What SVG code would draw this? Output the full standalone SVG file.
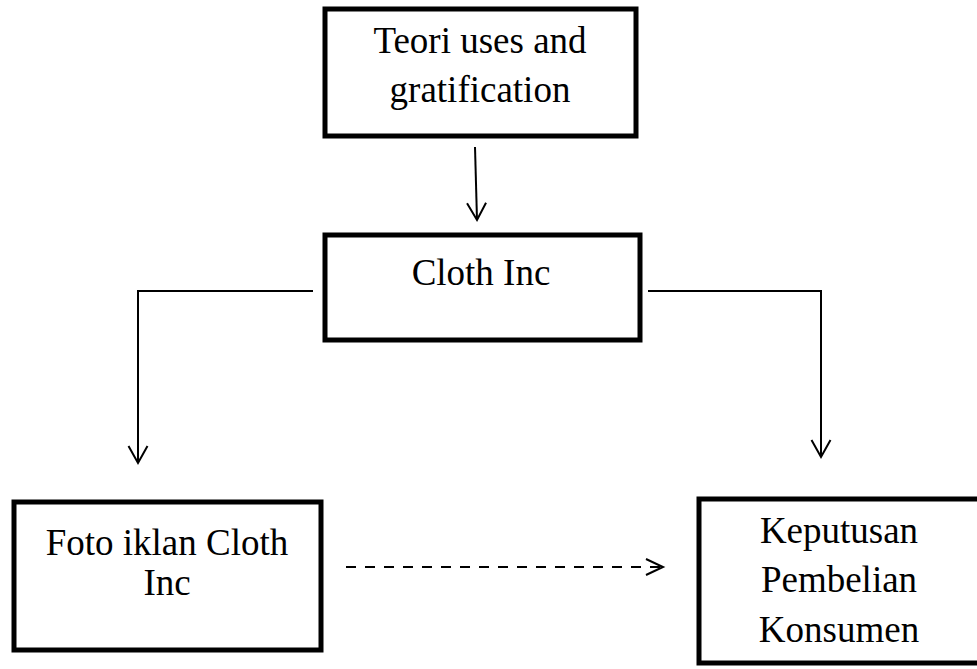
<svg xmlns="http://www.w3.org/2000/svg" width="977" height="669" viewBox="0 0 977 669">
<style>
.box{fill:#fff;stroke:#000;stroke-width:5}
.t{font-family:"Liberation Serif","Times New Roman",serif;font-size:37px;fill:#000;text-anchor:middle}
.c{fill:none;stroke:#000;stroke-width:2}
.d{stroke-dasharray:10 9}
</style>
<defs>
<marker id="ah" viewBox="0 0 22 22" refX="19" refY="11" markerWidth="22" markerHeight="22" markerUnits="userSpaceOnUse" orient="auto">
<path d="M2,1.5 L19,11 L2,20.5" fill="none" stroke="#000" stroke-width="2"/>
</marker>
</defs>
<rect width="977" height="669" fill="#fff"/>
<g id="connectors">
<line class="c" x1="475" y1="147" x2="477" y2="220" marker-end="url(#ah)"/>
<polyline class="c" points="313,291 138,291 138,463" marker-end="url(#ah)"/>
<polyline class="c" points="648,291 821,291 821,457" marker-end="url(#ah)"/>
<line class="c d" x1="346" y1="567" x2="663" y2="567"/>
<path class="c" d="M646,559 L663,567 L646,575"/>
</g>
<g id="teori">
<rect class="box" x="325" y="9" width="311" height="127"/>
<text class="t" x="480" y="53">Teori uses and</text>
<text class="t" x="480" y="102">gratification</text>
</g>
<g id="cloth">
<rect class="box" x="325" y="235" width="315" height="105"/>
<text class="t" x="481" y="285">Cloth Inc</text>
</g>
<g id="foto">
<rect class="box" x="14" y="502" width="307" height="148"/>
<text class="t" x="167" y="555">Foto iklan Cloth</text>
<text class="t" x="167" y="595">Inc</text>
</g>
<g id="keputusan">
<rect class="box" x="699" y="499" width="300" height="164"/>
<text class="t" x="839" y="543">Keputusan</text>
<text class="t" x="839" y="592">Pembelian</text>
<text class="t" x="839" y="642">Konsumen</text>
</g>
</svg>
